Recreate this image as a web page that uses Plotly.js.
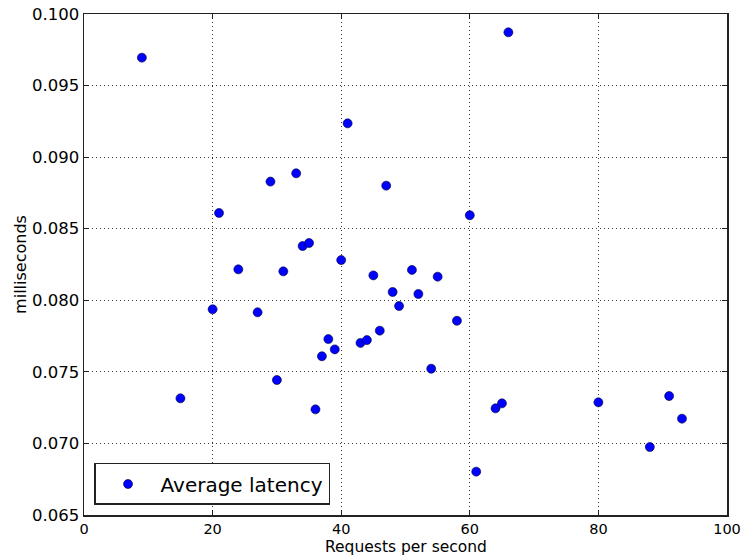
<!DOCTYPE html>
<html>
<head>
<meta charset="utf-8">
<script src="https://cdn.plot.ly/plotly-3.0.1.min.js"></script>
<style>html,body{margin:0;padding:0;background:#fff;}#chart{width:743px;height:555px;}</style>
</head>
<body>
<div id="chart"></div>
<script>
const requestsPerSecond = [9, 66, 41, 29, 33, 47, 21, 60, 34, 35, 24, 31, 40, 45, 51, 55, 20, 27, 48, 49, 52, 58, 38, 37, 39, 43, 44, 46, 30, 15, 36, 54, 64, 65, 80, 91, 93, 88, 61];
const latencyMs = [0.09695, 0.09872, 0.09236, 0.08829, 0.08887, 0.08801, 0.08610, 0.08594, 0.08379, 0.08400, 0.08216, 0.08202, 0.08281, 0.08174, 0.08212, 0.08165, 0.07937, 0.07916, 0.08058, 0.07960, 0.08044, 0.07857, 0.07729, 0.07609, 0.07657, 0.07702, 0.07722, 0.07788, 0.07443, 0.07315, 0.07238, 0.07522, 0.07245, 0.07280, 0.07287, 0.07331, 0.07173, 0.06975, 0.06803];
const xTicks = [0, 20, 40, 60, 80, 100];
const yTicks = [0.065, 0.070, 0.075, 0.080, 0.085, 0.090, 0.095, 0.100];
const xTitle = 'Requests per second';
const yTitle = 'milliseconds';

const font = {family: 'DejaVu Sans, sans-serif', color: '#000'};
const axisCommon = {
  showline: true, linecolor: '#222', linewidth: 1.5, mirror: 'ticks',
  ticks: 'inside', ticklen: 5, tickwidth: 1, tickcolor: '#222',
  showgrid: true, gridcolor: '#333', gridwidth: 1, griddash: '1px,3px',
  zeroline: false
};
const trace = {
  x: requestsPerSecond, y: latencyMs, type: 'scatter', mode: 'markers',
  name: 'Average latency',
  marker: {color: '#0000ff', size: 9, line: {color: '#000033', width: 0.6}}
};
const layout = {
  width: 743, height: 555,
  margin: {l: 84, r: 16, t: 14, b: 40},
  paper_bgcolor: '#fff', plot_bgcolor: '#fff',
  font: font,
  showlegend: true,
  legend: {
    x: 0.0156, y: 0.02, xanchor: 'left', yanchor: 'bottom',
    bgcolor: '#fff', bordercolor: '#222', borderwidth: 1.5,
    font: Object.assign({size: 20}, font), itemwidth: 55
  },
  xaxis: Object.assign({}, axisCommon, {
    range: [0, 100], tickvals: xTicks, ticktext: xTicks.map(String),
    tickfont: Object.assign({size: 14.5}, font), ticklabelstandoff: 0
  }),
  yaxis: Object.assign({}, axisCommon, {
    range: [0.065, 0.100], tickvals: yTicks, ticktext: yTicks.map(v => v.toFixed(3)),
    tickfont: Object.assign({size: 16.5}, font),
    title: {text: yTitle, font: Object.assign({size: 16}, font)}
  }),
  annotations: [{
    text: xTitle, xref: 'paper', yref: 'paper', x: 0.5, y: 0,
    xanchor: 'center', yanchor: 'middle', yshift: -32, showarrow: false,
    font: Object.assign({size: 15.5}, font)
  }]
};
Plotly.newPlot('chart', [trace], layout, {displayModeBar: false, staticPlot: true});
</script>
</body>
</html>
